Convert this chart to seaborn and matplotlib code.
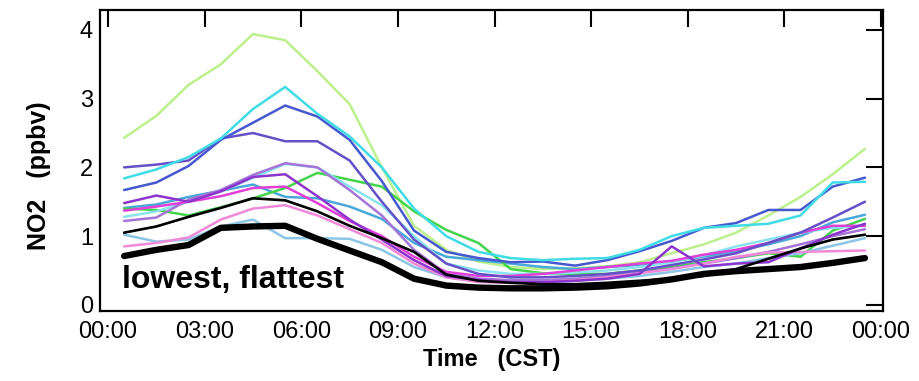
import matplotlib
matplotlib.use("Agg")
import matplotlib.pyplot as plt
import seaborn as sns
import numpy as np
import pandas as pd

sns.set_theme(style="white")
plt.rcParams['font.family'] = ['Liberation Sans', 'DejaVu Sans']
plt.rcParams['text.color'] = 'black'
plt.rcParams['axes.labelcolor'] = 'black'

# hourly bins (hour of day, bin centres)
hours = [h + 0.5 for h in range(24)]

light_green = [2.43, 2.75, 3.20, 3.50, 3.94, 3.85, 3.40, 2.92, 2.00, 1.15, 0.80, 0.63,
               0.55, 0.52, 0.53, 0.56, 0.62, 0.75, 0.88, 1.05, 1.30, 1.57, 1.90, 2.27]
cyan = [1.84, 1.97, 2.15, 2.42, 2.85, 3.17, 2.78, 2.45, 2.00, 1.40, 1.00, 0.77,
        0.68, 0.65, 0.67, 0.68, 0.80, 1.00, 1.12, 1.15, 1.18, 1.30, 1.78, 1.79]
royal_blue = [1.67, 1.78, 2.02, 2.40, 2.65, 2.90, 2.74, 2.40, 1.80, 1.08, 0.77, 0.68,
              0.62, 0.63, 0.57, 0.65, 0.78, 0.93, 1.12, 1.19, 1.38, 1.38, 1.72, 1.85]
slate_blue = [2.00, 2.04, 2.10, 2.42, 2.50, 2.38, 2.38, 2.10, 1.50, 0.95, 0.60, 0.45,
              0.40, 0.40, 0.42, 0.45, 0.50, 0.58, 0.66, 0.75, 0.90, 1.05, 1.27, 1.50]
light_cyan = [1.28, 1.36, 1.50, 1.65, 1.85, 2.05, 2.00, 1.72, 1.45, 1.00, 0.60, 0.50,
              0.45, 0.45, 0.47, 0.50, 0.55, 0.62, 0.72, 0.85, 0.95, 1.05, 1.12, 1.15]
lavender = [1.22, 1.27, 1.53, 1.67, 1.89, 2.06, 2.00, 1.67, 1.30, 0.80, 0.45, 0.38,
            0.36, 0.36, 0.38, 0.42, 0.47, 0.53, 0.60, 0.68, 0.77, 0.88, 1.00, 1.10]
purple = [1.48, 1.59, 1.50, 1.65, 1.86, 1.90, 1.58, 1.24, 0.95, 0.65, 0.42, 0.36,
          0.33, 0.33, 0.35, 0.38, 0.45, 0.85, 0.56, 0.60, 0.62, 0.82, 1.02, 1.18]
magenta = [1.37, 1.43, 1.50, 1.58, 1.70, 1.72, 1.48, 1.22, 1.00, 0.70, 0.48, 0.42,
           0.42, 0.45, 0.50, 0.55, 0.60, 0.64, 0.73, 0.80, 0.90, 1.05, 1.15, 1.15]
pink = [0.85, 0.90, 0.98, 1.24, 1.40, 1.45, 1.30, 1.10, 0.90, 0.60, 0.40, 0.33,
        0.32, 0.33, 0.36, 0.40, 0.46, 0.52, 0.60, 0.70, 0.76, 0.77, 0.78, 0.79]
teal = [1.41, 1.46, 1.57, 1.66, 1.75, 1.57, 1.55, 1.43, 1.25, 0.90, 0.70, 0.65,
        0.60, 0.55, 0.52, 0.55, 0.58, 0.63, 0.70, 0.78, 0.88, 1.00, 1.20, 1.31]
green = [1.40, 1.38, 1.30, 1.42, 1.55, 1.70, 1.92, 1.82, 1.72, 1.36, 1.09, 0.90,
         0.52, 0.46, 0.45, 0.45, 0.50, 0.55, 0.62, 0.68, 0.75, 0.70, 1.08, 1.25]
sky_blue = [1.02, 0.92, 0.95, 1.14, 1.24, 0.97, 0.97, 0.96, 0.80, 0.55, 0.40, 0.35,
            0.33, 0.33, 0.35, 0.38, 0.42, 0.48, 0.55, 0.60, 0.68, 0.75, 0.86, 0.97]
black_thin = [1.05, 1.14, 1.28, 1.41, 1.55, 1.52, 1.36, 1.15, 0.97, 0.77, 0.44, 0.35,
              0.32, 0.30, 0.30, 0.32, 0.35, 0.38, 0.42, 0.52, 0.67, 0.82, 0.95, 1.02]
black_thick = [0.71, 0.80, 0.87, 1.12, 1.14, 1.15, 0.96, 0.79, 0.62, 0.38, 0.28, 0.25,
               0.24, 0.24, 0.25, 0.27, 0.31, 0.37, 0.45, 0.49, 0.52, 0.55, 0.61, 0.68]

series = [
    ("light green", light_green, "#bcf08c", 1.8),
    ("teal", teal, "#4aa8d8", 1.8),
    ("green", green, "#44d44c", 1.8),
    ("light cyan", light_cyan, "#8ae4f0", 1.8),
    ("sky blue", sky_blue, "#8cc6e6", 1.8),
    ("lavender", lavender, "#a474d8", 1.8),
    ("pink", pink, "#f08ad8", 1.8),
    ("magenta", magenta, "#e040d6", 1.8),
    ("purple", purple, "#8c34cc", 1.8),
    ("slate blue", slate_blue, "#6650c8", 1.8),
    ("royal blue", royal_blue, "#4658d0", 1.8),
    ("cyan", cyan, "#40dce6", 1.8),
    ("black thin", black_thin, "#000000", 1.9),
    ("black thick", black_thick, "#000000", 4.6),
]

fig = plt.figure(figsize=(9.2, 3.81), dpi=100)
ax = fig.add_axes([100 / 920, 1 - 311 / 381, 783 / 920, 301 / 381])

for name, vals, col, lw in series:
    df = pd.DataFrame({"hour": hours, "no2": vals})
    sns.lineplot(data=df, x="hour", y="no2", color=col, linewidth=lw, ax=ax)

ax.set_xlim(-0.25, 24.06)
ax.set_ylim(-0.09, 4.29)
xt = list(range(0, 25, 3))
ax.set_xticks(xt)
ax.set_xticklabels([f"{h % 24:02d}:00" for h in xt])
ax.set_yticks([0, 1, 2, 3, 4])
ax.tick_params(direction="in", length=12, width=1.5, top=True, right=True,
               labelsize=17, colors="black", labelcolor="black")
ax.tick_params(axis="x", pad=7)
ax.tick_params(axis="y", pad=5)
for s in ax.spines.values():
    s.set_visible(True)
    s.set_color("black")
    s.set_linewidth(1.6)

ax.set_xlabel("Time   (CST)", fontsize=17, fontweight="bold", labelpad=4, color="black")
ax.set_ylabel("NO2   (ppbv)", fontsize=18, fontweight="bold", color="black")
ax.yaxis.set_label_coords(-0.062, 0.45)

ax.text(0.43, 0.25, "lowest, flattest", fontsize=23, fontweight="bold",
        ha="left", va="baseline", color="black")

fig.savefig("out.png", dpi=100)
